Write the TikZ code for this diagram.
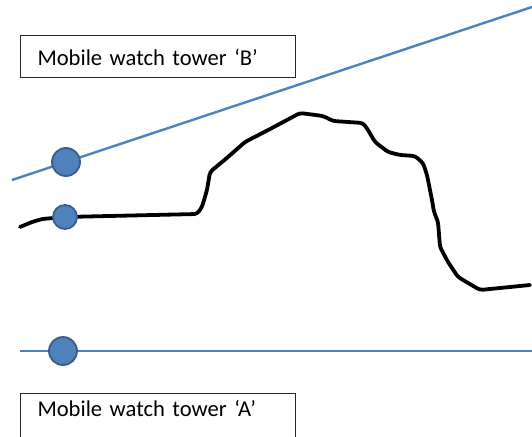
\documentclass[tikz,border=0pt]{standalone}
\usepackage{fontspec}
\setmainfont{Carlito}
\definecolor{lineblue}{HTML}{4F81BD}
\definecolor{dotfill}{HTML}{4F81BD}
\definecolor{dotedge}{HTML}{385D8A}
\begin{document}
\begin{tikzpicture}[x=1pt,y=-1pt,
  label box/.style={draw=black!85,line width=1pt,fill=white,anchor=north west,
    minimum width=275pt,text width=241pt,inner xsep=17pt,inner ysep=0pt,align=left,
    font=\fontsize{22.6}{27}\selectfont},
  tower line/.style={draw=lineblue,line width=2.4pt},
  dot/.style={circle,fill=dotfill,draw=dotedge,line width=1.8pt,inner sep=0pt},
  terrain/.style={draw=black,line width=3.8pt,line join=round,line cap=round,rounded corners=3pt}]
\useasboundingbox (0,0) rectangle (532,436);
% labels
\node[label box,text height=30pt,text depth=12pt] (boxB) at (20,35) {Mobile watch tower ‘B’};
\node[label box,text height=23pt,text depth=24pt] (boxA) at (20,393) {Mobile watch tower ‘A’};
% lines
\coordinate (bL) at (12,180);
\coordinate (bR) at (532,7);
\coordinate (aL) at (20,351);
\coordinate (aR) at (532,351);
\draw[tower line] (bL) -- (bR);
\draw[tower line] (aL) -- (aR);
% terrain
\draw[terrain] (20,227) -- (32,222) -- (42,219) -- (65,217) -- (197,214) -- (202,207)
  -- (207,190) -- (210,172) -- (216,167) -- (228,157) -- (245,142) -- (272,128)
  -- (300,113) -- (323,116) -- (333,121) -- (363,123) -- (368,130) -- (375,142)
  -- (388,152) -- (400,155) -- (415,156) -- (423,163) -- (427,175) -- (432,200)
  -- (434,212) -- (438,222) -- (440,247) -- (448,262) -- (458,277) -- (480,290)
  -- (530,285);
% dots
\node[dot,minimum size=28pt] (dB) at (66,162) {};
\node[dot,minimum size=24pt] (dT) at (65,217) {};
\node[dot,minimum size=28pt] (dA) at (63,351) {};
\end{tikzpicture}
\end{document}
